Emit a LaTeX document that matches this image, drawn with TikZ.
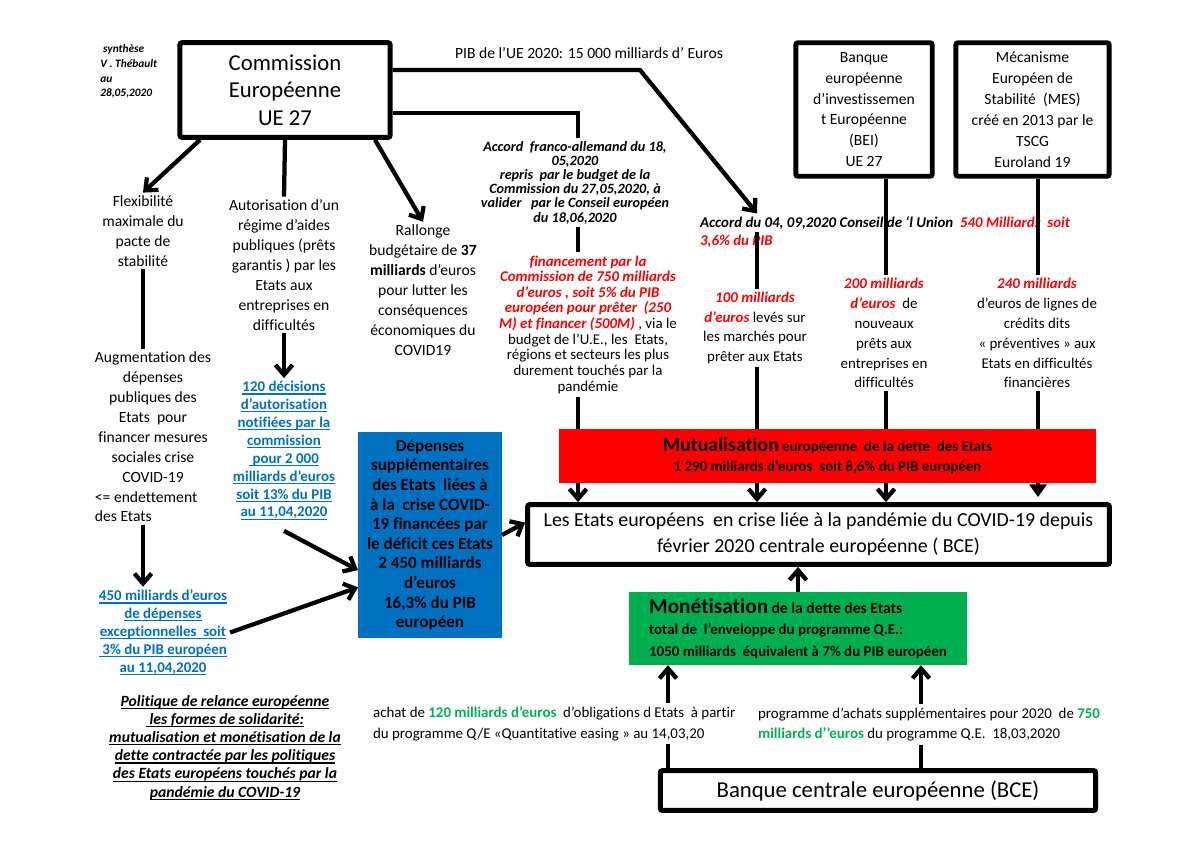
\documentclass[tikz,border=0pt]{standalone}
\usepackage{fontspec}
\setmainfont{Carlito}[Ligatures=NoCommon]
\usetikzlibrary{arrows.meta, calc}
\definecolor{euRed}{RGB}{255,0,0}
\definecolor{euBlue}{RGB}{0,112,192}
\definecolor{euGreen}{RGB}{0,176,80}
\newcommand{\rd}[1]{\textcolor{euRed}{\bfseries\itshape #1}}
\newcommand{\gr}[1]{\textcolor{euGreen}{\bfseries #1}}
\newsavebox{\lnkbox}
\newcommand{\lnk}[1]{\sbox{\lnkbox}{#1}\rlap{\rule[-2pt]{\wd\lnkbox}{0.8pt}}\usebox{\lnkbox}}
\newlength{\augw}
\newcommand{\augleft}[1]{\settowidth{\augw}{Augmentation des}\makebox[\augw][l]{#1}}
\tikzset{
  txt/.style={align=center, inner sep=2pt, font=\fontsize{11}{14}\selectfont},
  small/.style={txt, font=\fontsize{10.5}{14}\selectfont},
  bluelink/.style={txt, text=euBlue, font=\bfseries\fontsize{10.5}{12.6}\selectfont},
  bigbox/.style={draw, line width=3.5pt, fill=white, rounded corners=1.5pt, inner sep=0pt, align=center},
  link/.style={line width=3pt},
  flow/.style={link, ->},
}

\begin{document}
\begin{tikzpicture}[x=0.2475mm, y=-0.2475mm, >={Straight Barb[length=7pt,width=12pt]}]
  \useasboundingbox (0,0) rectangle (1200,849);
  % columns of the connectors
  \coordinate (colA) at (578,0);
  \coordinate (colB) at (757,0);
  \coordinate (colC) at (886,0);
  \coordinate (colD) at (1038,0);
  \coordinate (qeA) at (668,0);
  \coordinate (qeB) at (921,0);
  \coordinate (pibturn) at (640,70);
  % institutions
  \node[bigbox, minimum width=148pt, minimum height=66.7pt, font=\fontsize{16}{19.3}\selectfont] (comm) at (285,90) {Commission\\Européenne\\UE 27};
  \node[bigbox, minimum width=96.1pt, minimum height=94pt, font=\fontsize{11}{14.7}\selectfont] (bei) at (864,109.5) {Banque\\européenne\\d’investissemen\\t Européenne\\(BEI)\\UE 27};
  \node[bigbox, minimum width=108pt, minimum height=94pt, font=\fontsize{11}{14.7}\selectfont] (mes) at (1032.5,109.5) {Mécanisme\\Européen de\\Stabilité\ \ (MES)\\créé en 2013 par le\\TSCG\\Euroland 19};
  \node[bigbox, minimum width=409.7pt, minimum height=42.1pt, font=\fontsize{14}{18.2}\selectfont] (etats) at (818.5,534.5) {Les Etats européens\ \ en crise liée à la pandémie du COVID-19 depuis\\février 2020 centrale européenne ( BCE)};
  \node[bigbox, minimum width=306.6pt, minimum height=28.1pt, font=\fontsize{16}{19}\selectfont] (bce) at (878,790.5) {Banque centrale européenne (BCE)};
  \node[fill=euBlue, minimum width=101pt, minimum height=144.5pt, inner sep=0pt, align=center, font=\bfseries\fontsize{12}{13.8}\selectfont] (blue) at (430,535) {Dépenses\\supplémentaires\\des Etats\ \ liées à\\à la\ \ crise COVID-\\19 financées par\\le déficit ces Etats\\2 450 milliards\\d’euros\\16,3\% du PIB\\européen};
  \node[fill=euGreen, minimum width=238.5pt, minimum height=51.2pt, inner sep=0pt, align=left, font=\bfseries\fontsize{10.5}{15}\selectfont] (green) at (798,628.5) {{\fontsize{15}{15}\selectfont Monétisation} {\fontsize{11}{15}\selectfont de la dette des Etats}\\total de\ \ l’enveloppe du programme Q.E.:\\1050 milliards\ \ équivalent à 7\% du PIB européen};
  % texts
  \node[anchor=west, align=left, inner sep=0pt, font=\bfseries\itshape\fontsize{8}{10.4}\selectfont] (synth) at (100,71.5) {\hspace*{2pt}synthèse\\V . Thébault\\au\\28,05,2020};
  \node[txt] (pib) at (589,53) {PIB de l’UE 2020: 15 000 milliards d’ Euros};
  \node[txt] (flex) at (143,231) {Flexibilité\\maximale du\\pacte de\\stabilité};
  \node[txt] (augm) at (153,437) {Augmentation des\\dépenses\\publiques des\\Etats\ \ pour\\financer mesures\\sociales crise\\COVID-19\\\augleft{<= endettement}\\\augleft{des Etats}};
  \node[bluelink] (cent450) at (163,632.5) {\lnk{450 milliards d’euros}\\\lnk{de dépenses}\\\lnk{exceptionnelles\ \ soit}\\\lnk{\ 3\% du PIB européen}\\\lnk{au 11,04,2020}};
  \node[txt, font=\bfseries\itshape\fontsize{11}{12.8}\selectfont] (polit) at (225,747.5) {\lnk{Politique de relance européenne}\\\lnk{\ les formes de solidarité:}\\\lnk{mutualisation et monétisation de la}\\\lnk{dette contractée par les politiques}\\\lnk{des Etats européens touchés par la}\\\lnk{pandémie du COVID-19}};
  \node[txt] (autor) at (284,265) {Autorisation d’un\\régime d’aides\\publiques (prêts\\garantis ) par les\\Etats aux\\entreprises en\\difficultés};
  \node[bluelink] (dec120) at (284,450.5) {\lnk{120 décisions}\\\lnk{d’autorisation}\\\lnk{notifiées par la}\\\lnk{commission}\\\lnk{\ pour 2 000}\\\lnk{milliards d’euros}\\\lnk{soit 13\% du PIB}\\\lnk{au 11,04,2020}};
  \node[txt] (rall) at (423,290) {Rallonge\\budgétaire de \textbf{37}\\\textbf{milliards} d’euros\\pour lutter les\\conséquences\\économiques du\\COVID19};
  \node[txt, font=\bfseries\itshape\fontsize{10}{10}\selectfont] (accfa) at (575,182.5) {Accord\ \ franco-allemand du 18,\\05,2020\\repris\ \ par le budget de la\\Commission du 27,05,2020, à\\valider\ \ \ par le Conseil européen\\du 18,06,2020};
  \node[txt, font=\fontsize{10.5}{11}\selectfont] (fin) at (588,324.5) {\rd{financement par la}\\\rd{Commission de 750 milliards}\\\rd{d’euros , soit 5\% du PIB}\\\rd{européen pour prêter\ \ (250}\\\rd{M) et financer (500M)} , via le\\budget de l’U.E., les\ \ Etats,\\régions et secteurs les plus\\durement touchés par la\\pandémie};
  \node[anchor=west, align=left, inner sep=2pt, font=\bfseries\itshape\fontsize{10.5}{12.6}\selectfont] (acc04) at (697,232) {Accord du 04, 09,2020 Conseil de ‘l Union\ \ \rd{540 Milliards\ \ soit}\\\rd{3,6\% du PIB}};
  \node[small] (cent100) at (755,328) {\rd{100 milliards}\\\rd{d’euros} levés sur\\les marchés pour\\prêter aux Etats};
  \node[small] (d200) at (884,333) {\rd{200 milliards}\\\rd{d’euros}\ \ de\\nouveaux\\prêts aux\\entreprises en\\difficultés};
  \node[small] (d240) at (1037,333) {\rd{240 milliards}\\d’euros de lignes de\\crédits dits\\« préventives » aux\\Etats en difficultés\\financières};
  \node[anchor=west, align=left, inner sep=2pt, font=\fontsize{10.5}{14.7}\selectfont] (achat) at (370,723.5) {achat de \gr{120 milliards d’euros}\ \ d’obligations d Etats\ \ à partir\\du programme Q/E «Quantitative easing » au 14,03,20};
  \node[anchor=west, align=left, inner sep=2pt, font=\fontsize{10.5}{14.7}\selectfont] (prog) at (755,724.5) {programme d’achats supplémentaires pour 2020\ \ de \gr{750}\\\gr{milliards d’’euros} du programme Q.E.\ \ 18,03,2020};
  % from the Commission
  \draw[flow] ($(comm.south)+(-85,0)$) -- (flex.north);
  \draw[link] (comm.south) -- (autor.north);
  \draw[flow] ($(comm.south)+(90,0)$) -- (rall.north);
  \draw[flow] ($(comm.east)+(0,-20)$) -- (pibturn) -- (colB |- acc04.north);
  \draw[link] ($(comm.east)+(0,23)$) -| (colA |- accfa.north);
  % national measures
  \draw[link] (flex.south) -- (flex.south |- augm.north);
  \draw[flow] (augm.south -| flex.south) -- (flex.south |- cent450.north);
  \draw[flow] (cent450.east) -- (blue.216);
  \draw[flow] (autor.south) -- (dec120.north);
  \draw[flow] ($(dec120.south)+(0,8)$) -- (blue.206);
  \draw[flow] (blue.east) -- ($(etats.west)+(0,-12)$);
  % european funds
  \draw[link] (colA |- accfa.south) -- (colA |- fin.north);
  \draw[flow] (colA |- fin.south) -- (colA |- etats.north);
  \draw[link] (colB |- acc04.center) -- (colB |- cent100.north);
  \draw[flow] (colB |- cent100.south) -- (colB |- etats.north);
  \draw[link] (colC |- bei.south) -- (colC |- d200.north);
  \draw[flow] (colC |- d200.south) -- (colC |- etats.north);
  \draw[link] (colD |- mes.south) -- (colD |- d240.north);
  \draw[link, -{Triangle[length=9pt,width=12pt]}] (colD |- d240.south) -- ($(colD |- etats.north)+(0,-5)$);
  % monetisation
  \draw[flow] (green.north) -- (green.north |- etats.south);
  \draw[flow] (qeA |- achat.north) -- (qeA |- green.south);
  \draw[link] (qeA |- bce.north) -- (qeA |- achat.south);
  \draw[flow] (qeB |- prog.north) -- (qeB |- green.south);
  \draw[link] (qeB |- bce.north) -- (qeB |- prog.south);
  % mutualisation band over the lines
  \node[fill=euRed, minimum width=378.2pt, minimum height=37.9pt, inner sep=0pt, align=center, font=\bfseries\fontsize{10.5}{14}\selectfont] (red) at (827.5,456) {{\fontsize{14}{14}\selectfont Mutualisation} européenne\ \ de la dette\ \ des Etats\\1 290 milliards d’euros\ \ soit 8,6\% du PIB européen};
\end{tikzpicture}
\end{document}
